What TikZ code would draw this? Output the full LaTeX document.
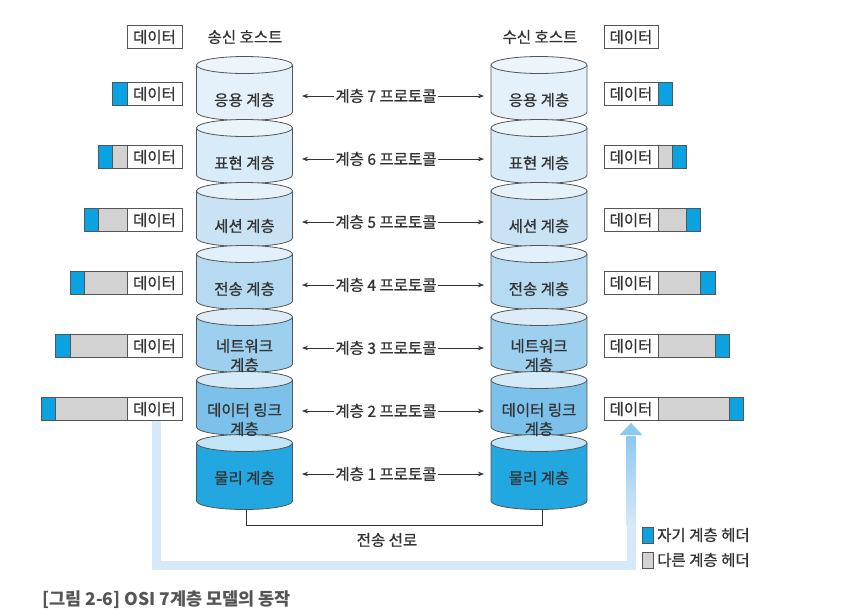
\documentclass[tikz,border=0pt]{standalone}
\usepackage{fontspec}
\setmainfont{Noto Sans CJK KR}[FakeBold=0.8]
\newfontfamily\capfont{Noto Sans CJK KR}
\usetikzlibrary{arrows.meta}
\definecolor{bord}{HTML}{555555}
\definecolor{txt}{HTML}{333333}
\definecolor{hblue}{HTML}{0BA2E2}
\definecolor{hgray}{HTML}{D2D2D2}
\definecolor{topbase}{HTML}{EEF6FC}
\definecolor{body0}{HTML}{E4F1FA}
\definecolor{body1}{HTML}{D8EBF8}
\definecolor{body2}{HTML}{C9E3F5}
\definecolor{body3}{HTML}{B5DAF2}
\definecolor{body4}{HTML}{9DCFEE}
\definecolor{body5}{HTML}{7BC1EA}
\definecolor{body6}{HTML}{22A7E1}
\definecolor{pathc}{HTML}{D5E9F8}
\definecolor{arrc}{HTML}{8DCAEF}
\definecolor{capc}{HTML}{555555}
\begin{document}
\begin{tikzpicture}[x=1pt,y=1pt,
  lbl/.style={font=\fontsize{15.5}{19}\selectfont, text=txt, align=center, inner sep=1pt},
  databox/.style={draw=bord, fill=white, minimum width=55pt, minimum height=23pt, inner sep=0pt, line width=0.8pt, font=\fontsize{15.5}{16}\selectfont, text=txt},
  cylline/.style={draw=bord, line width=0.8pt},
  arr/.style={-{Stealth[length=6pt,width=4.5pt]}, line width=0.6pt, draw=txt},
  hdr/.style={draw=bord, line width=0.8pt}
]
\useasboundingbox (0,0) rectangle (863,-614);

% cylinders
\foreach \i in {0,...,6}{
  \pgfmathsetmacro\Tc{65+63*\i}
  \pgfmathsetmacro\Bc{\i==6 ? \Tc+58 : \Tc+47}
  \foreach \cx in {244.5,539}{
    \fill[fill=body\i] (\cx-48,-\Tc) -- (\cx-48,-\Bc) arc[start angle=180,end angle=360,x radius=48pt,y radius=8.5pt] -- (\cx+48,-\Tc) arc[start angle=0,end angle=180,x radius=48pt,y radius=8.5pt] -- cycle;
    \draw[cylline] (\cx-48,-\Tc) -- (\cx-48,-\Bc) arc[start angle=180,end angle=360,x radius=48pt,y radius=8.5pt] -- (\cx+48,-\Tc);
    \draw[cylline, fill=body\i!22!topbase] (\cx,-\Tc) ellipse[x radius=48pt, y radius=8.5pt];
  }
}
% layer labels
\foreach \i/\off/\t in {0/35/응용 계층, 1/35/표현 계층, 2/35/세션 계층, 3/35/전송 계층, 4/38.5/네트워크\\계층, 5/39.5/데이터 링크\\계층, 6/35/물리 계층}{
  \pgfmathsetmacro\ty{65+63*\i+\off}
  \node[lbl] (L\i) at (244.5,-\ty) {\t};
  \node[lbl] (R\i) at (539,-\ty) {\t};
}
% protocol arrows
\foreach \i in {0,...,6}{
  \pgfmathsetmacro\py{96+63*\i}
  \pgfmathtruncatemacro\n{7-\i}
  \node[lbl] (P\i) at (386,-\py) {계층 \n\ 프로토콜};
  \coordinate (PL\i) at (302,-\py);
  \coordinate (PR\i) at (484,-\py);
  \draw[arr] (P\i.west) -- (PL\i);
  \draw[arr] (P\i.east) -- (PR\i);
}
% titles
\node[lbl] (tl) at (245,-37) {송신 호스트};
\node[lbl] (tr) at (540,-37) {수신 호스트};
% data boxes
\node[databox] (DLt) at (154.5,-37) {데이터};
\node[databox, minimum width=54pt] (DRt) at (631,-37) {데이터};
\foreach \i in {0,...,5}{
  \pgfmathsetmacro\yc{94+63*\i}
  \pgfmathsetmacro\xa{127-(\i+1)*14.25}
  \pgfmathsetmacro\xb{127-\i*14.25}
  \pgfmathsetmacro\xc{658+\i*14.25}
  \pgfmathsetmacro\xd{658+(\i+1)*14.25}
  \ifnum\i>0\relax
    \draw[hdr, fill=hgray] (\xb,-\yc+11.5) rectangle (127,-\yc-11.5);
    \draw[hdr, fill=hgray] (658,-\yc+11.5) rectangle (\xc,-\yc-11.5);
  \fi
  \draw[hdr, fill=hblue] (\xa,-\yc+11.5) rectangle (\xb,-\yc-11.5);
  \draw[hdr, fill=hblue] (\xc,-\yc+11.5) rectangle (\xd,-\yc-11.5);
  \node[databox] (DL\i) at (154.5,-\yc) {데이터};
  \node[databox, minimum width=54pt] (DR\i) at (631,-\yc) {데이터};
}
% transfer path (light blue)
\draw[pathc, line width=9pt] ([xshift=2pt]DL5.south) -- (156.5,-565) -- (631,-565) -- (631,-520);
\shade[top color=arrc, bottom color=pathc] (626.5,-436) rectangle (635.5,-525);
\fill[arrc] (619.5,-435) -- (642.5,-435) -- ([yshift=-2pt]DR5.south) -- cycle;
% physical medium
\coordinate (Lb) at (246,-509);
\coordinate (Rb) at (542,-509);
\draw[line width=1pt, draw=txt] (Lb) -- (246,-525) -- (542,-525) -- (Rb);
\node[lbl] (med) at (387,-540) {전송 선로};
% legend
\draw[hdr, fill=hblue] (642,-527) rectangle (653,-543);
\draw[hdr, fill=hgray] (642,-552) rectangle (653,-568);
\node[lbl, anchor=west] (lg1) at (656,-535) {자기 계층 헤더};
\node[lbl, anchor=west] (lg2) at (656,-560) {다른 계층 헤더};
% caption
\node[anchor=west, inner sep=0pt, font=\capfont\bfseries\fontsize{17.5}{19}\selectfont, text=capc] (cap) at (42,-600) {[그림 2-6] OSI 7계층 모델의 동작};
\end{tikzpicture}
\end{document}
